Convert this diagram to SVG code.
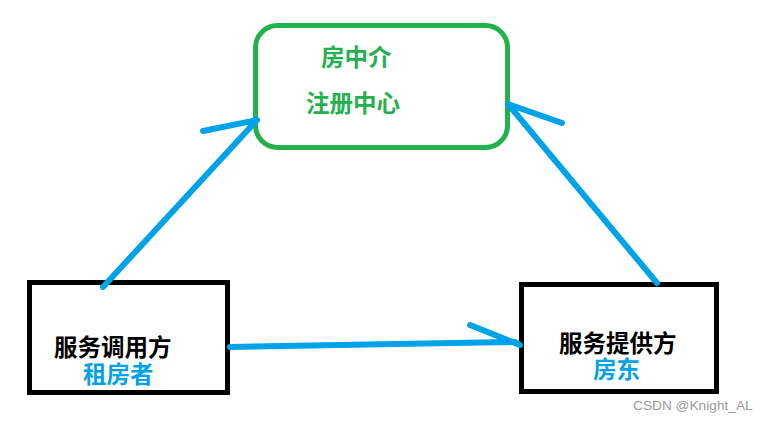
<svg xmlns="http://www.w3.org/2000/svg" width="768" height="423" viewBox="0 0 768 423">
<style>
.box{fill:#fff;stroke:#000;stroke-width:5}
.reg{fill:#fff;stroke:#22b14c;stroke-width:5}
.t{font-family:"Noto Sans CJK SC","Noto Sans",sans-serif;font-weight:bold;font-size:23.5px}
.k{fill:#000}
.b{fill:#00a2e8}
.g{fill:#22b14c}
.c{fill:none;stroke:#00a2e8;stroke-width:6;stroke-linecap:round;stroke-linejoin:round}
.wm{font-family:"Liberation Sans",Arial,sans-serif;font-size:13.7px;fill:#999}
</style>
<rect width="768" height="423" fill="#fff"/>
<g id="registry">
<rect class="reg" x="255.5" y="25.5" width="252" height="122" rx="22"/>
<text class="t g" x="321" y="66">房中介</text>
<text class="t g" x="306" y="112">注册中心</text>
</g>
<g id="consumer">
<rect class="box" x="29.5" y="282.5" width="198" height="110"/>
<text class="t k" x="54" y="356">服务调用方</text>
<text class="t b" x="83" y="383">租房者</text>
</g>
<g id="provider">
<rect class="box" x="521.5" y="284.5" width="195" height="107"/>
<text class="t k" x="559" y="352">服务提供方</text>
<text class="t b" x="593" y="378">房东</text>
</g>
<g id="connectors">
<path class="c" d="M103,287 L257,120 M203,131 L257,120"/>
<path class="c" d="M657,283 L508,104 M508,104 L562,123"/>
<path class="c" d="M230,347 L515,342 L520,345 M470,325 L520,345"/>
</g>
<text class="wm" x="633" y="410">CSDN @Knight_AL</text>
</svg>
